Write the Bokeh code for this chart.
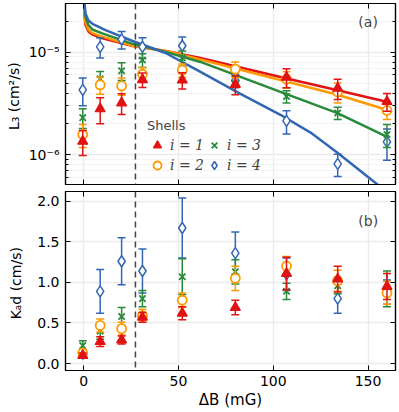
import numpy as np
from bokeh.plotting import figure
from bokeh.models import (Span, Label, Legend, LegendItem, LinearAxis, LogAxis, FixedTicker,
                          CustomJSTickFormatter, PrintfTickFormatter, Range1d)
from bokeh.layouts import column
from bokeh.embed import file_html
from bokeh.resources import INLINE

# ---------------- data ----------------
delta_B = [-0.5, 8.7, 20, 31, 52, 80, 107, 134, 160]

L3_i1 = [1.35e-6, 2.8e-6, 3.2e-6, 5.4e-6, 5.35e-6, 4.85e-6, 5.7e-6, 4.45e-6, 3.3e-6]
L3_i1_err = [0.37e-6, 0.8e-6, 0.73e-6, 0.87e-6, 0.97e-6, 1.0e-6, 1.2e-6, 1.0e-6, 0.65e-6]
L3_i2 = [1.57e-6, 4.8e-6, 4.7e-6, 6.1e-6, 6.7e-6, 6.85e-6, 5.45e-6, 4.1e-6, 2.7e-6]
L3_i2_err = [0.4e-6, 0.9e-6, 0.9e-6, 1.0e-6, 1.0e-6, 1.2e-6, 1.0e-6, 0.9e-6, 0.5e-6]
L3_i3 = [2.3e-6, 5.5e-6, 6.6e-6, 8.4e-6, 8.8e-6, 6.2e-6, 3.7e-6, 2.55e-6, 1.57e-6]
L3_i3_err = [0.5e-6, 1.0e-6, 1.3e-6, 1.3e-6, 1.5e-6, 1.0e-6, 0.5e-6, 0.35e-6, 0.4e-6]
L3_i4 = [4.3e-6, 1.13e-5, 1.34e-5, 1.13e-5, 1.16e-5, 5.3e-6, 2.14e-6, 8.1e-7, 1.33e-6]
L3_i4_err = [1.3e-6, 2.5e-6, 2.6e-6, 2.6e-6, 2.5e-6, 0.8e-6, 0.55e-6, 2.0e-7, 0.45e-6]

Kad_i1 = [0.10, 0.27, 0.29, 0.57, 0.62, 0.69, 1.11, 1.04, 0.95]
Kad_i1_err = [0.03, 0.06, 0.05, 0.06, 0.08, 0.09, 0.20, 0.16, 0.16]
Kad_i2 = [0.13, 0.47, 0.43, 0.59, 0.78, 1.05, 1.20, 1.02, 0.87]
Kad_i2_err = [0.04, 0.08, 0.08, 0.08, 0.09, 0.15, 0.12, 0.13, 0.14]
Kad_i3 = [0.22, 0.40, 0.58, 0.80, 1.07, 1.13, 0.89, 0.96, 0.92]
Kad_i3_err = [0.06, 0.10, 0.11, 0.10, 0.22, 0.15, 0.10, 0.10, 0.22]
Kad_i4 = [0.12, 0.89, 1.26, 1.14, 1.67, 1.36, 1.10, 0.80, 0.88]
Kad_i4_err = [0.03, 0.27, 0.29, 0.27, 0.37, 0.26, 0.20, 0.18, 0.15]

# fitted curves
fit_i1_x = [0.26, 0.42, 0.95, 2.5, 4.6, 8.9, 25.8, 43.2, 61.6, 103.8, 133.9, 159.8]
fit_i1_y = [5.1e-5, 2.31e-5, 1.85e-5, 1.6e-5, 1.49e-5, 1.39e-5, 1.15e-5, 1.03e-5, 8.8e-6, 5.74e-6, 4.25e-6, 3.28e-6]
fit_i2_x = [0.26, 0.42, 0.95, 2.5, 4.6, 8.9, 25.8, 43.2, 61.6, 103.8, 133.9, 159.8]
fit_i2_y = [5.1e-5, 2.47e-5, 1.97e-5, 1.67e-5, 1.54e-5, 1.44e-5, 1.16e-5, 1.03e-5, 8.5e-6, 5.37e-6, 3.84e-6, 2.74e-6]
fit_i3_x = [0.26, 0.42, 0.95, 2.5, 4.6, 9.4, 25.8, 43.2, 61.6, 103.8, 133.9, 159.8]
fit_i3_y = [5.1e-5, 2.7e-5, 2.21e-5, 1.85e-5, 1.67e-5, 1.54e-5, 1.21e-5, 1.01e-5, 8.05e-6, 4.1e-6, 2.54e-6, 1.5e-6]
fit_i4_x = [0.26, 0.42, 0.95, 2.5, 4.6, 11.5, 25.8, 43.2, 61.6, 82.7, 103.8, 119.7, 133.9, 155.0, 162.0]
fit_i4_y = [5.1e-5, 3.0e-5, 2.4e-5, 2.05e-5, 1.9e-5, 1.65e-5, 1.29e-5, 9.85e-6, 6.43e-6, 3.93e-6, 2.45e-6, 1.64e-6, 1.04e-6, 5.1e-7, 3.6e-7]

dashed_x = 27.3
x_ticks = [0, 50, 100, 150]
kad_ticks = [0.0, 0.5, 1.0, 1.5, 2.0]
L3_major_ticks = [1e-6, 1e-5]
L3_minor_ticks = [m * 10.0 ** e for e in (-7, -6, -5) for m in range(2, 10)]
shell_labels = ["i = 1", "i = 2", "i = 3", "i = 4"]
L3_title = "L\u2083  (cm\u00b2/s)"
Kad_title = "K\u2090d  (cm/s)"
x_title = "\u0394B (mG)"

RED, ORANGE, GREEN, BLUE = "#e01212", "#ff9900", "#2a8a3c", "#3366b3"
FONT = "DejaVu Sans"
SERIF = "DejaVu Serif"

X_RANGE = (-9.6, 164.5)


def style_axis(ax, show_labels=True, minor=False):
    ax.axis_line_color = "black"
    ax.axis_line_width = 1.2
    ax.major_tick_in = 5
    ax.major_tick_out = 0
    ax.major_tick_line_color = "black"
    ax.major_tick_line_width = 1
    if minor:
        ax.minor_tick_in = 3
        ax.minor_tick_out = 0
        ax.minor_tick_line_color = "black"
    else:
        ax.minor_tick_line_color = None
    ax.major_label_text_font = FONT
    ax.major_label_text_font_size = "14px"
    ax.major_label_text_color = "black"
    ax.axis_label_text_font = FONT
    ax.axis_label_text_font_size = "14px"
    ax.axis_label_text_font_style = "normal"
    ax.axis_label_text_color = "black"
    if not show_labels:
        ax.major_label_text_font_size = "0px"
        ax.major_label_text_alpha = 0
        ax.major_label_standoff = 0


def base_fig(fh, ylog, yr, top, bottom):
    p = figure(frame_width=330, frame_height=fh,
               y_axis_type="log" if ylog else "linear",
               x_range=Range1d(*X_RANGE), y_range=Range1d(*yr),
               output_backend="svg", toolbar_location=None,
               min_border_left=65, min_border_right=3,
               min_border_top=top, min_border_bottom=bottom)
    p.outline_line_color = "black"
    p.outline_line_width = 1.2
    p.background_fill_color = "white"
    p.border_fill_color = "white"
    p.xgrid.grid_line_color = "#ececec"
    p.xgrid.grid_line_width = 1.5
    p.ygrid.grid_line_color = "#ececec"
    p.ygrid.grid_line_width = 1.5
    return p


def sup_formatter():
    return CustomJSTickFormatter(code="""
const sup = {'-':'\u207b','0':'\u2070','1':'\u00b9','2':'\u00b2','3':'\u00b3','4':'\u2074','5':'\u2075','6':'\u2076','7':'\u2077','8':'\u2078','9':'\u2079'};
const e = Math.round(Math.log10(tick)).toString();
return '10' + e.split('').map(c => sup[c]).join('');
""")


def draw_series(p, x, y, err, color, marker, size, fill, lw):
    y = np.array(y)
    e = np.array(err)
    up = y + e
    lo = y - e
    p.segment(x0=x, y0=lo, x1=x, y1=up, line_color=color, line_width=1.5)
    p.scatter(x=x, y=up, marker="dash", size=8, line_color=color, line_width=1.5)
    p.scatter(x=x, y=lo, marker="dash", size=8, line_color=color, line_width=1.5)
    r = p.scatter(x=x, y=y, marker=marker, size=size,
                  fill_color=fill, line_color=color, line_width=lw)
    return r


# ---------------- panel (a) ----------------
p1 = base_fig(181, True, (5.1e-7, 3.0e-5), 3, 3)
xt = FixedTicker(ticks=x_ticks)
p1.xaxis[0].ticker = xt
p1.xgrid[0].ticker = xt
style_axis(p1.xaxis[0], show_labels=False)
yt = FixedTicker(ticks=L3_major_ticks, minor_ticks=L3_minor_ticks)
p1.yaxis[0].ticker = yt
p1.ygrid[0].ticker = yt
p1.yaxis[0].formatter = sup_formatter()
style_axis(p1.yaxis[0], minor=True)
p1.yaxis[0].major_label_standoff = 6
p1.yaxis[0].axis_label = L3_title
p1.yaxis[0].axis_label_standoff = 4
p1.ygrid[0].minor_grid_line_color = "#f4f4f4"
p1.ygrid[0].minor_grid_line_width = 1

ax_top = LinearAxis(ticker=FixedTicker(ticks=x_ticks))
style_axis(ax_top, show_labels=False)
p1.add_layout(ax_top, "above")
ax_r = LogAxis(ticker=FixedTicker(ticks=L3_major_ticks, minor_ticks=L3_minor_ticks))
style_axis(ax_r, show_labels=False, minor=True)
p1.add_layout(ax_r, "right")

p1.add_layout(Span(location=dashed_x, dimension="height", line_color="#444444",
                   line_dash="6 4", line_width=1.5))

for fx, fy, c in [(fit_i1_x, fit_i1_y, RED), (fit_i2_x, fit_i2_y, ORANGE),
                  (fit_i3_x, fit_i3_y, GREEN), (fit_i4_x, fit_i4_y, BLUE)]:
    p1.line(fx, fy, line_color=c, line_width=2.5)

r4 = draw_series(p1, delta_B, L3_i4, L3_i4_err, BLUE, "diamond", 11, "white", 1.5)
r3 = draw_series(p1, delta_B, L3_i3, L3_i3_err, GREEN, "x", 9, None, 1.8)
r2 = draw_series(p1, delta_B, L3_i2, L3_i2_err, ORANGE, "circle", 9, "white", 1.8)
r1 = draw_series(p1, delta_B, L3_i1, L3_i1_err, RED, "triangle", 10, RED, 1.2)

legend = Legend(items=[LegendItem(label=shell_labels[0], renderers=[r1]),
                       LegendItem(label=shell_labels[1], renderers=[r2]),
                       LegendItem(label=shell_labels[2], renderers=[r3]),
                       LegendItem(label=shell_labels[3], renderers=[r4])],
                location=(82, 9), ncols=2, title="Shells",
                title_text_font=FONT, title_text_font_size="13px", title_text_font_style="normal",
                title_standoff=2,
                label_text_font=SERIF, label_text_font_style="italic",
                label_text_font_size="14px",
                glyph_width=20, glyph_height=20, label_height=16, label_width=30,
                label_standoff=3, spacing=-2, padding=0, margin=0,
                border_line_color=None, background_fill_alpha=0)
p1.add_layout(legend)

p1.add_layout(Label(x=144.9, y=1.97e-5, text="(a)", text_font=FONT, text_font_size="14px",
                    text_baseline="middle"))

# ---------------- panel (b) ----------------
p2 = base_fig(179, False, (-0.086, 2.12), 4, 38)
xt2 = FixedTicker(ticks=x_ticks)
p2.xaxis[0].ticker = xt2
p2.xgrid[0].ticker = xt2
style_axis(p2.xaxis[0])
p2.xaxis[0].major_label_standoff = 5
p2.xaxis[0].axis_label = x_title
p2.xaxis[0].axis_label_text_font_size = "15px"
p2.xaxis[0].axis_label_standoff = 2
yt2 = FixedTicker(ticks=kad_ticks)
p2.yaxis[0].ticker = yt2
p2.ygrid[0].ticker = yt2
p2.yaxis[0].formatter = PrintfTickFormatter(format="%.1f")
style_axis(p2.yaxis[0])
p2.yaxis[0].major_label_standoff = 6
p2.yaxis[0].axis_label = Kad_title
p2.yaxis[0].axis_label_standoff = 10

ax_top2 = LinearAxis(ticker=FixedTicker(ticks=x_ticks))
style_axis(ax_top2, show_labels=False)
p2.add_layout(ax_top2, "above")
ax_r2 = LinearAxis(ticker=FixedTicker(ticks=kad_ticks))
style_axis(ax_r2, show_labels=False)
p2.add_layout(ax_r2, "right")

p2.add_layout(Span(location=dashed_x, dimension="height", line_color="#444444",
                   line_dash="6 4", line_width=1.5))

draw_series(p2, delta_B, Kad_i4, Kad_i4_err, BLUE, "diamond", 11, "white", 1.5)
draw_series(p2, delta_B, Kad_i3, Kad_i3_err, GREEN, "x", 9, None, 1.8)
draw_series(p2, delta_B, Kad_i2, Kad_i2_err, ORANGE, "circle", 9, "white", 1.8)
draw_series(p2, delta_B, Kad_i1, Kad_i1_err, RED, "triangle", 10, RED, 1.2)

p2.add_layout(Label(x=144.9, y=1.76, text="(b)", text_font=FONT, text_font_size="14px",
                    text_baseline="middle"))

layout = column(p1, p2, spacing=0)
open("out.html", "w").write(file_html(layout, INLINE))
